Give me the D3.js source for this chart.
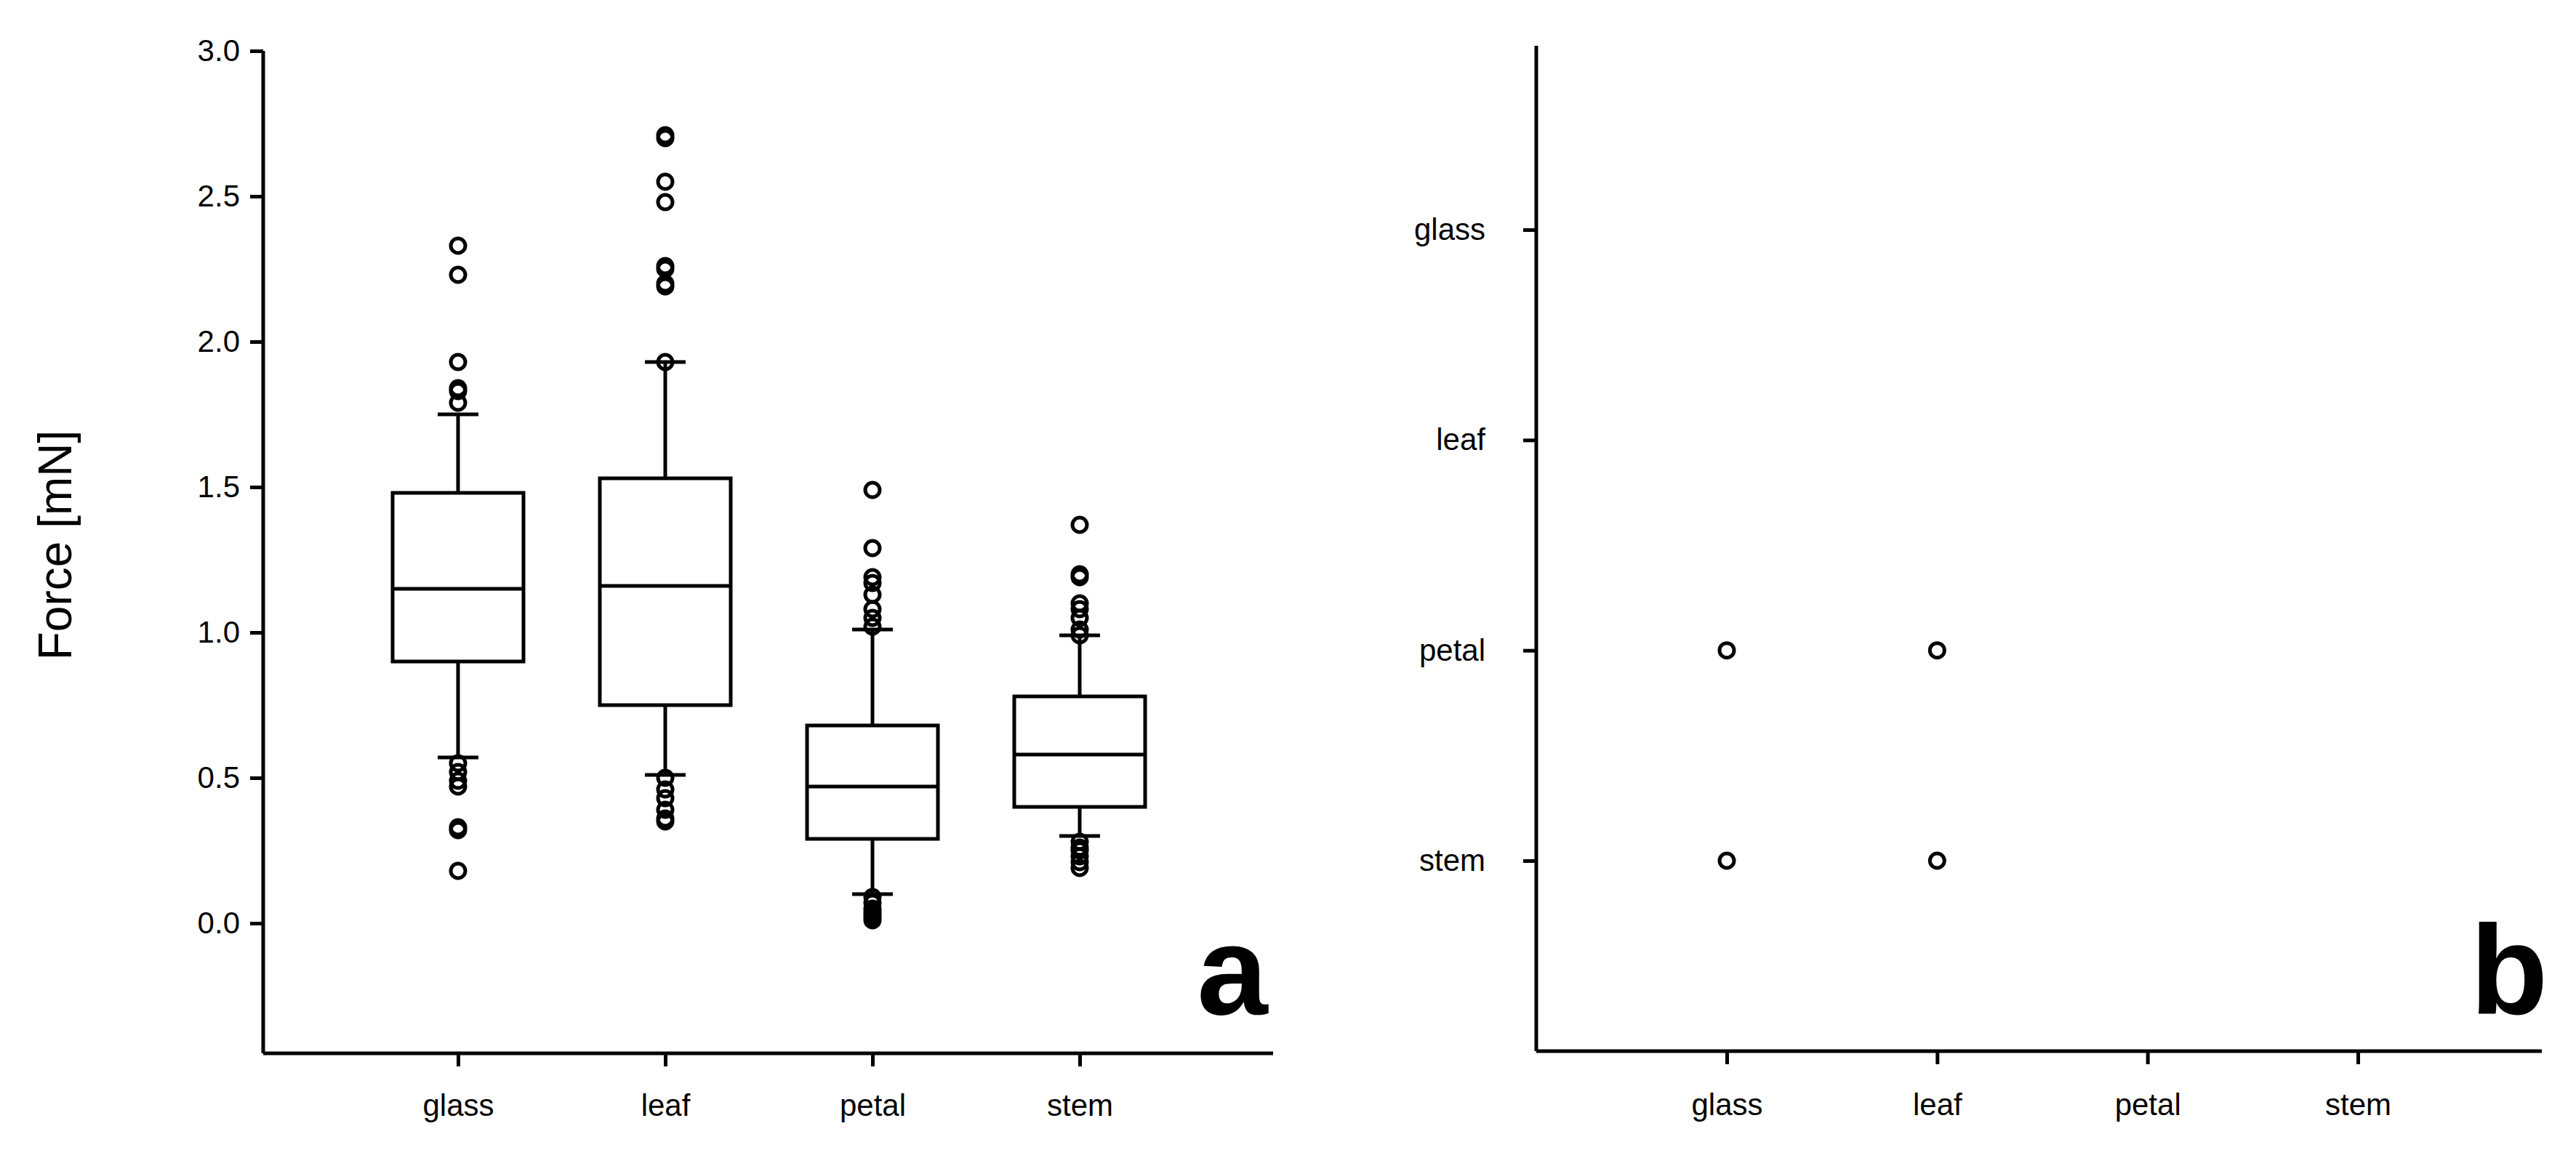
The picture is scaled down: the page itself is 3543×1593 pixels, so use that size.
<!DOCTYPE html><html><head><meta charset="utf-8">
<script src="https://cdn.jsdelivr.net/npm/d3@7"></script>
<style>body{margin:0;background:#fff}text{font-family:Arial,"Liberation Sans",sans-serif}</style></head><body>
<svg id="c" width="3543" height="1593"></svg>
<script>
const categories=["glass","leaf","petal","stem"];
const yTicks=[0,0.5,1.0,1.5,2.0,2.5,3.0];
// box stats: [lowWhisker, q1, median, q3, highWhisker]
const glassBox=[0.57,0.90,1.15,1.48,1.75];
const leafBox=[0.51,0.75,1.16,1.53,1.93];
const petalBox=[0.10,0.29,0.47,0.68,1.01];
const stemBox=[0.30,0.40,0.58,0.78,0.99];
const glassOut=[2.33,2.23,1.93,1.84,1.83,1.79,0.55,0.52,0.49,0.47,0.33,0.32,0.18];
const leafOut=[2.71,2.70,2.55,2.48,2.26,2.25,2.20,2.19,1.93,0.50,0.46,0.43,0.39,0.36,0.35];
const petalOut=[1.49,1.29,1.19,1.17,1.13,1.08,1.05,1.02,0.09,0.07,0.05,0.04,0.03,0.02,0.01];
const stemOut=[1.37,1.20,1.19,1.10,1.08,1.05,1.01,0.99,0.28,0.26,0.25,0.23,0.21,0.19];
// panel b: pairs [x category, y category]
const bPoints=[["glass","petal"],["glass","stem"],["leaf","petal"],["leaf","stem"]];

const boxes=[glassBox,leafBox,petalBox,stemBox], outs=[glassOut,leafOut,petalOut,stemOut];
const svg=d3.select("#c");
const SW=5;
// Panel a
const xa=d3.scalePoint().domain(categories).range([630,1485]);
const ya=d3.scaleLinear().domain([-0.4475,3.0]).range([1449,70]);
const ga=svg.append("g");
ga.append("line").attr("x1",362).attr("x2",362).attr("y1",ya(3)).attr("y2",1449).attr("stroke","#000").attr("stroke-width",SW);
ga.append("line").attr("x1",362).attr("x2",1751).attr("y1",1449).attr("y2",1449).attr("stroke","#000").attr("stroke-width",SW);
const yA=ga.append("g").attr("transform","translate(362,0)").call(d3.axisLeft(ya).tickValues(yTicks).tickFormat(d3.format(".1f")).tickSize(18).tickPadding(14));
yA.select(".domain").remove();
const xA=ga.append("g").attr("transform","translate(0,1449)").call(d3.axisBottom(xa).tickSize(18).tickPadding(38));
xA.select(".domain").remove();
[yA,xA].forEach(a=>{a.selectAll("line").attr("stroke-width",SW);a.selectAll("text").attr("font-size",42).attr("fill","#000")});
const bw=180;
categories.forEach((c,i)=>{
  const b=boxes[i],cx=xa(c),g=ga.append("g").attr("stroke","#000").attr("stroke-width",SW).attr("fill","none");
  g.append("line").attr("x1",cx).attr("x2",cx).attr("y1",ya(b[0])).attr("y2",ya(b[1]));
  g.append("line").attr("x1",cx).attr("x2",cx).attr("y1",ya(b[3])).attr("y2",ya(b[4]));
  [b[0],b[4]].forEach(v=>g.append("line").attr("x1",cx-28).attr("x2",cx+28).attr("y1",ya(v)).attr("y2",ya(v)));
  g.append("rect").attr("x",cx-bw/2).attr("width",bw).attr("y",ya(b[3])).attr("height",ya(b[1])-ya(b[3]));
  g.append("line").attr("x1",cx-bw/2).attr("x2",cx+bw/2).attr("y1",ya(b[2])).attr("y2",ya(b[2]));
  g.selectAll("circle").data(outs[i]).join("circle").attr("cx",cx).attr("cy",d=>ya(d)).attr("r",10);
});
svg.append("text").attr("transform","translate(98,"+ya(1.3)+") rotate(-90)").attr("text-anchor","middle").attr("font-size",64).text("Force [mN]");
svg.append("text").attr("x",1695).attr("y",1395).attr("text-anchor","middle").attr("font-size",175).attr("font-weight","bold").text("a");
// Panel b
const xb=d3.scalePoint().domain(categories).range([2375,3243]);
const yb=d3.scalePoint().domain(categories).range([316,1184]);
const gb=svg.append("g");
gb.append("line").attr("x1",2113).attr("x2",2113).attr("y1",63).attr("y2",1446).attr("stroke","#000").attr("stroke-width",SW);
gb.append("line").attr("x1",2113).attr("x2",3496).attr("y1",1446).attr("y2",1446).attr("stroke","#000").attr("stroke-width",SW);
const yB=gb.append("g").attr("transform","translate(2113,0)").call(d3.axisLeft(yb).tickSize(18).tickPadding(52));
yB.select(".domain").remove();
const xB=gb.append("g").attr("transform","translate(0,1446)").call(d3.axisBottom(xb).tickSize(18).tickPadding(40));
xB.select(".domain").remove();
[yB,xB].forEach(a=>{a.selectAll("line").attr("stroke-width",SW);a.selectAll("text").attr("font-size",42).attr("fill","#000")});
gb.selectAll("circle").data(bPoints).join("circle").attr("cx",d=>xb(d[0])).attr("cy",d=>yb(d[1])).attr("r",10).attr("fill","none").attr("stroke","#000").attr("stroke-width",SW);
svg.append("text").attr("x",3451).attr("y",1395).attr("text-anchor","middle").attr("font-size",175).attr("font-weight","bold").text("b");
</script></body></html>
